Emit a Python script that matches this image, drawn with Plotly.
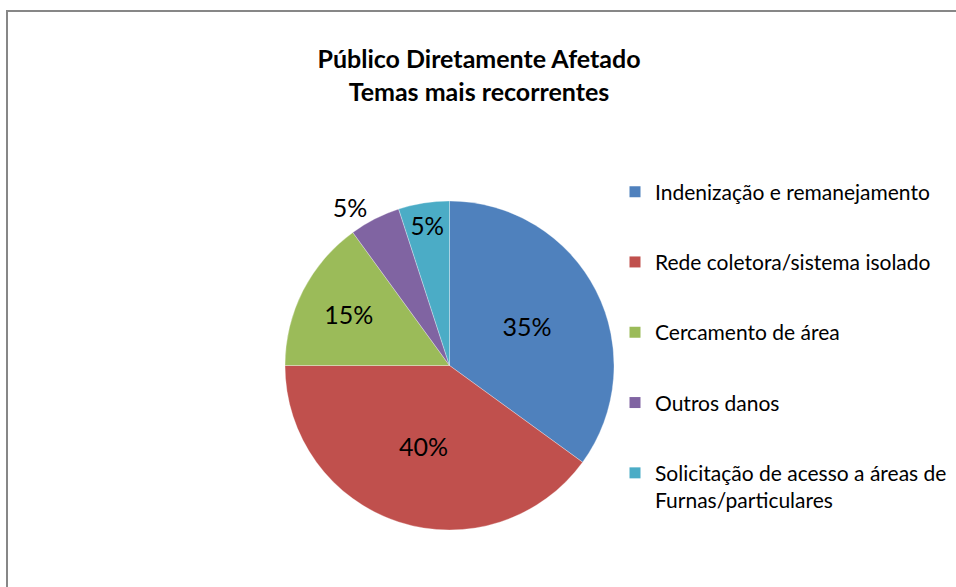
import plotly.graph_objects as go

categories = ["Indenização e remanejamento", "Rede coletora/sistema isolado",
              "Cercamento de área", "Outros danos",
              "Solicitação de acesso a áreas de<br>Furnas/particulares"]
values = [35, 40, 15, 5, 5]
colors = ["#4F81BD", "#C0504D", "#9BBB59", "#8064A2", "#4BACC6"]
label_pos = ["inside", "inside", "inside", "outside", "inside"]
title_lines = ["Público Diretamente Afetado", "Temas mais recorrentes"]

W, H = 956, 587
fig = go.Figure()

fig.add_trace(go.Pie(
    labels=categories, values=values, sort=False, direction="clockwise",
    rotation=0,
    marker=dict(colors=colors, line=dict(color="rgba(255,255,255,0.6)", width=0.5)),
    texttemplate="%{percent:.0%}", textposition=label_pos,
    insidetextorientation="horizontal",
    textfont=dict(family="Lato", size=25, color="#000000"),
    showlegend=False, hoverinfo="label+percent",
    domain=dict(x=[285 / W, 614 / W], y=[1 - 530 / H, 1 - 201 / H]),
))

for i, (name, col) in enumerate(zip(categories, colors)):
    fig.add_trace(go.Scatter(
        x=[None], y=[None], mode="markers", name=name,
        marker=dict(symbol="square", size=11, color=col),
        legendgroup=f"g{i}", showlegend=True, hoverinfo="skip",
    ))

fig.update_layout(
    width=W, height=H,
    margin=dict(l=0, r=0, t=0, b=0),
    paper_bgcolor="white", plot_bgcolor="white",
    xaxis=dict(visible=False), yaxis=dict(visible=False),
    title=dict(
        text="<br>".join(f"<b>{t}</b>" for t in title_lines),
        font=dict(family="Lato", size=25, color="#000000"),
        x=479 / W, xanchor="center", y=1 - 68 / H, yanchor="top", yref="container",
    ),
    legend=dict(
        x=615 / W, xanchor="left", y=1 - 171.5 / H, yanchor="top",
        font=dict(family="Lato", size=21, color="#000000"),
        traceorder="grouped", tracegroupgap=40, valign="top",
        bgcolor="rgba(0,0,0,0)", borderwidth=0,
    ),
    shapes=[dict(type="rect", xref="paper", yref="paper",
                 x0=7 / W, x1=1.02, y0=-0.02, y1=1 - 11 / H,
                 line=dict(color="#878787", width=2), fillcolor="rgba(0,0,0,0)")],
)

fig.write_html(
    "out.html",
    config={"displayModeBar": False},
    post_script="document.body.style.margin='0';document.body.style.overflow='hidden';",
)
